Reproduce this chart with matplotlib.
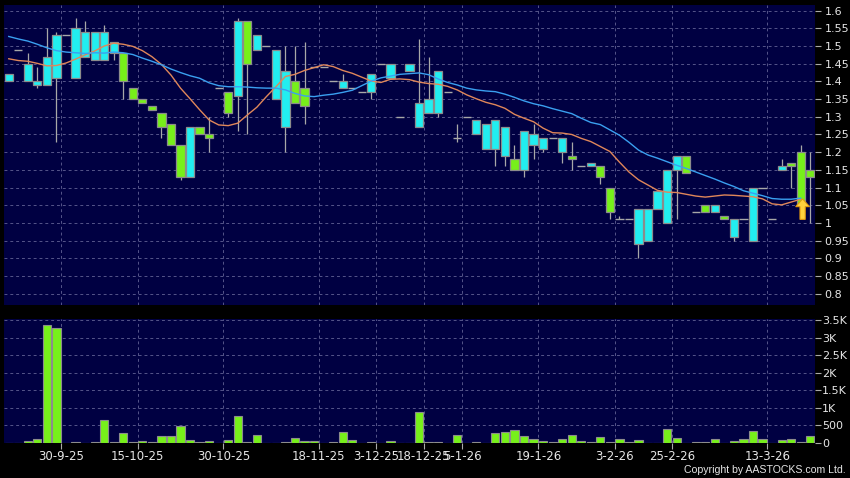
import matplotlib
matplotlib.use("Agg")
import matplotlib.pyplot as plt
import matplotlib.patches as mpatches
import numpy as np
from matplotlib.ticker import FuncFormatter

# 每个槽位一根K线（0..84）
opens = [1.40, 1.49, 1.40, 1.39, 1.39, 1.41, 1.53, 1.41, 1.47, 1.46,
         1.46, 1.48, 1.48, 1.38, 1.35, 1.33, 1.31, 1.28, 1.22, 1.13,
         1.27, 1.25, 1.38, 1.37, 1.36, 1.57, 1.49, 1.50, 1.35, 1.27,
         1.40, 1.38, 1.44, 1.44, 1.40, 1.38, 1.38, 1.37, 1.37, 1.45,
         1.41, 1.30, 1.43, 1.27, 1.31, 1.31, 1.37, 1.24, 1.30, 1.25,
         1.21, 1.21, 1.19, 1.18, 1.15, 1.22, 1.21, 1.24, 1.20, 1.19,
         1.16, 1.16, 1.16, 1.10, 1.01, 1.01, 0.94, 0.95, 1.04, 1.00,
         1.15, 1.19, 1.03, 1.05, 1.03, 1.02, 0.96, 1.01, 0.95, 1.10,
         1.01, 1.15, 1.17, 1.20, 1.15]
closes = [1.42, 1.49, 1.45, 1.40, 1.47, 1.53, 1.53, 1.55, 1.54, 1.54,
          1.54, 1.51, 1.40, 1.35, 1.34, 1.32, 1.27, 1.22, 1.13, 1.27,
          1.25, 1.24, 1.38, 1.31, 1.57, 1.45, 1.53, 1.50, 1.49, 1.43,
          1.34, 1.33, 1.44, 1.44, 1.40, 1.40, 1.38, 1.37, 1.42, 1.45,
          1.45, 1.30, 1.45, 1.34, 1.35, 1.43, 1.37, 1.24, 1.30, 1.29,
          1.28, 1.29, 1.27, 1.15, 1.26, 1.25, 1.24, 1.24, 1.24, 1.18,
          1.16, 1.17, 1.13, 1.03, 1.01, 1.01, 1.04, 1.04, 1.09, 1.15,
          1.19, 1.14, 1.03, 1.03, 1.05, 1.01, 1.01, 1.01, 1.10, 1.10,
          1.01, 1.16, 1.16, 1.05, 1.13]
highs = [1.42, 1.49, 1.48, 1.44, 1.55, 1.54, 1.53, 1.58, 1.57, 1.54,
         1.56, 1.51, 1.48, 1.38, 1.35, 1.33, 1.31, 1.28, 1.22, 1.27,
         1.27, 1.30, 1.38, 1.37, 1.58, 1.57, 1.53, 1.50, 1.49, 1.50,
         1.50, 1.51, 1.44, 1.44, 1.40, 1.42, 1.38, 1.37, 1.42, 1.45,
         1.45, 1.30, 1.45, 1.52, 1.47, 1.43, 1.37, 1.28, 1.30, 1.29,
         1.28, 1.29, 1.27, 1.22, 1.26, 1.28, 1.24, 1.24, 1.24, 1.23,
         1.16, 1.17, 1.16, 1.10, 1.02, 1.01, 1.04, 1.04, 1.09, 1.15,
         1.19, 1.19, 1.03, 1.05, 1.05, 1.02, 1.01, 1.01, 1.10, 1.10,
         1.01, 1.18, 1.17, 1.22, 1.20]
lows = [1.40, 1.49, 1.40, 1.38, 1.39, 1.23, 1.53, 1.41, 1.47, 1.46,
        1.46, 1.46, 1.35, 1.35, 1.34, 1.32, 1.24, 1.22, 1.12, 1.13,
        1.25, 1.20, 1.38, 1.30, 1.26, 1.25, 1.49, 1.50, 1.35, 1.20,
        1.34, 1.28, 1.44, 1.44, 1.40, 1.38, 1.38, 1.37, 1.35, 1.45,
        1.41, 1.30, 1.43, 1.27, 1.31, 1.30, 1.37, 1.23, 1.30, 1.25,
        1.21, 1.16, 1.16, 1.15, 1.13, 1.18, 1.20, 1.24, 1.17, 1.15,
        1.16, 1.16, 1.11, 1.01, 1.01, 1.01, 0.90, 0.95, 1.04, 1.00,
        1.01, 1.14, 1.03, 1.03, 1.03, 1.01, 0.95, 1.01, 0.95, 1.10,
        1.01, 1.15, 1.10, 1.05, 1.00]
volumes = [0, 0, 47, 123, 3345, 3280, 0, 28, 0, 20,
           662, 28, 293, 38, 66, 38, 208, 189, 491, 95,
           28, 66, 0, 95, 765, 38, 236, 0, 0, 28,
           142, 66, 66, 0, 28, 312, 95, 0, 38, 0,
           57, 0, 0, 869, 28, 28, 0, 227, 0, 19,
           0, 283, 321, 378, 198, 123, 66, 28, 104, 227,
           66, 38, 161, 38, 113, 38, 85, 10, 0, 406,
           151, 10, 28, 28, 104, 0, 47, 123, 350, 113,
           10, 85, 123, 28, 198]

# 两条均线（槽位 0..83）
ma_short = [1.464, 1.459, 1.457, 1.451, 1.444, 1.445, 1.452, 1.463, 1.475, 1.486,
            1.500, 1.508, 1.505, 1.499, 1.487, 1.470, 1.448, 1.418, 1.381, 1.351,
            1.320, 1.291, 1.277, 1.275, 1.282, 1.305, 1.327, 1.357, 1.385, 1.414,
            1.420, 1.431, 1.439, 1.447, 1.442, 1.431, 1.423, 1.412, 1.401, 1.397,
            1.406, 1.407, 1.405, 1.398, 1.394, 1.392, 1.386, 1.376, 1.362, 1.351,
            1.341, 1.334, 1.324, 1.307, 1.296, 1.286, 1.268, 1.255, 1.254, 1.250,
            1.239, 1.230, 1.216, 1.202, 1.172, 1.144, 1.122, 1.107, 1.092, 1.087,
            1.086, 1.081, 1.076, 1.073, 1.076, 1.079, 1.078, 1.076, 1.074, 1.068,
            1.054, 1.051, 1.059, 1.067]
ma_long = [1.527, 1.520, 1.514, 1.505, 1.495, 1.487, 1.483, 1.481, 1.479, 1.481,
           1.480, 1.483, 1.481, 1.476, 1.466, 1.457, 1.447, 1.435, 1.425, 1.416,
           1.409, 1.396, 1.388, 1.385, 1.385, 1.384, 1.382, 1.381, 1.381, 1.376,
           1.366, 1.359, 1.357, 1.361, 1.364, 1.369, 1.375, 1.388, 1.401, 1.410,
           1.415, 1.420, 1.422, 1.424, 1.419, 1.407, 1.397, 1.390, 1.381, 1.376,
           1.373, 1.371, 1.364, 1.355, 1.345, 1.337, 1.331, 1.323, 1.316, 1.309,
           1.296, 1.284, 1.278, 1.263, 1.248, 1.228, 1.206, 1.192, 1.183, 1.173,
           1.163, 1.154, 1.144, 1.134, 1.124, 1.113, 1.103, 1.091, 1.084, 1.077,
           1.069, 1.067, 1.067, 1.070]

date_slots = [5.5, 13.5, 22.5, 32.5, 38.5, 43.5, 47.5, 55.5, 63.5, 69.5, 79.5]
date_labels = ["30-9-25", "15-10-25", "30-10-25", "18-11-25", "3-12-25", "18-12-25",
               "5-1-26", "19-1-26", "3-2-26", "25-2-26", "13-3-26"]
price_ticks = [0.8, 0.85, 0.9, 0.95, 1.0, 1.05, 1.1, 1.15, 1.2, 1.25, 1.3,
               1.35, 1.4, 1.45, 1.5, 1.55, 1.6]
vol_ticks = [0, 500, 1000, 1500, 2000, 2500, 3000, 3500]
signal_slot = 83
signal_range = (1.01, 1.068)

BG = "#000042"
GRID = "#55558a"
UP = "#22eef0"
DOWN = "#77f01a"
EDGE = "#8c8c8c"
TXT = "#e6e6e6"

plt.rcParams["font.family"] = ["DejaVu Sans"]

fig = plt.figure(figsize=(8.5, 4.78), dpi=100, facecolor="black")
ax = fig.add_axes([4 / 850, 1 - 305 / 478, 811 / 850, 300 / 478])
axv = fig.add_axes([4 / 850, 1 - 443 / 478, 811 / 850, 124 / 478], sharex=ax)

o = np.array(opens)
c = np.array(closes)
h = np.array(highs)
l = np.array(lows)
x = np.arange(len(o))
w = 0.86

for a, pad in ((ax, 3), (axv, 1)):
    a.set_facecolor(BG)
    for s in a.spines.values():
        s.set_visible(False)
    a.grid(True, color=GRID, linestyle=(0, (3, 3)), linewidth=0.7)
    a.set_axisbelow(True)
    a.yaxis.tick_right()
    a.tick_params(axis="y", colors=TXT, labelsize=8, length=4, width=0.8,
                  pad=pad, color="#aaaaaa")

# 影线
ax.vlines(x, l, h, color="#a8a8a8", linewidth=0.9, zorder=2)
doji = o == c
up = (c > o)
dn = (c < o)
ax.bar(x[up], (c - o)[up], bottom=o[up], width=w, color=UP, edgecolor=EDGE,
       linewidth=0.9, zorder=3)
ax.bar(x[dn], (o - c)[dn], bottom=c[dn], width=w, color=DOWN, edgecolor=EDGE,
       linewidth=0.9, zorder=3)
ax.hlines(c[doji], x[doji] - w / 2, x[doji] + w / 2, color="#a8a8a8",
          linewidth=1.0, zorder=3)

xm = np.arange(len(ma_short))
ax.plot(xm, ma_short, color="#e0875a", linewidth=1.0, zorder=4)
ax.plot(xm, ma_long, color="#3aa0f0", linewidth=1.0, zorder=4)

ax.add_patch(mpatches.FancyArrow(
    signal_slot + 0.2, signal_range[0], 0, signal_range[1] - signal_range[0],
    width=0.55, head_width=1.45, head_length=0.022, length_includes_head=True,
    facecolor="#ffd23c", edgecolor="#e39a10", linewidth=0.8, zorder=6))

ax.set_ylim(0.768, 1.616)
ax.set_yticks(price_ticks)
ax.yaxis.set_major_formatter(FuncFormatter(lambda v, p: f"{v:g}"))
ax.set_xlim(-0.5, len(o) - 0.5)
ax.set_xticks(date_slots)
ax.tick_params(axis="x", length=0, labelbottom=False)

axv.bar(x, volumes, width=w, color=DOWN, edgecolor=EDGE, linewidth=0.8, zorder=3)
axv.set_ylim(0, 3530)
axv.set_yticks(vol_ticks)
axv.yaxis.set_major_formatter(FuncFormatter(
    lambda v, p: "0" if v == 0 else (f"{v / 1000:g}K" if v >= 1000 else f"{v:g}")))
axv.set_xticks(date_slots)
axv.set_xticklabels(date_labels)
axv.tick_params(axis="x", colors=TXT, labelsize=8.5, length=4, width=0.8,
                pad=1, color="#aaaaaa")

fig.text(846 / 850, 1 - 470 / 478, "Copyright by AASTOCKS.com Ltd.", color=TXT,
         fontsize=7.6, ha="right", va="center", family=["Liberation Sans", "DejaVu Sans"])

fig.savefig("out.png", dpi=100, facecolor="black")
